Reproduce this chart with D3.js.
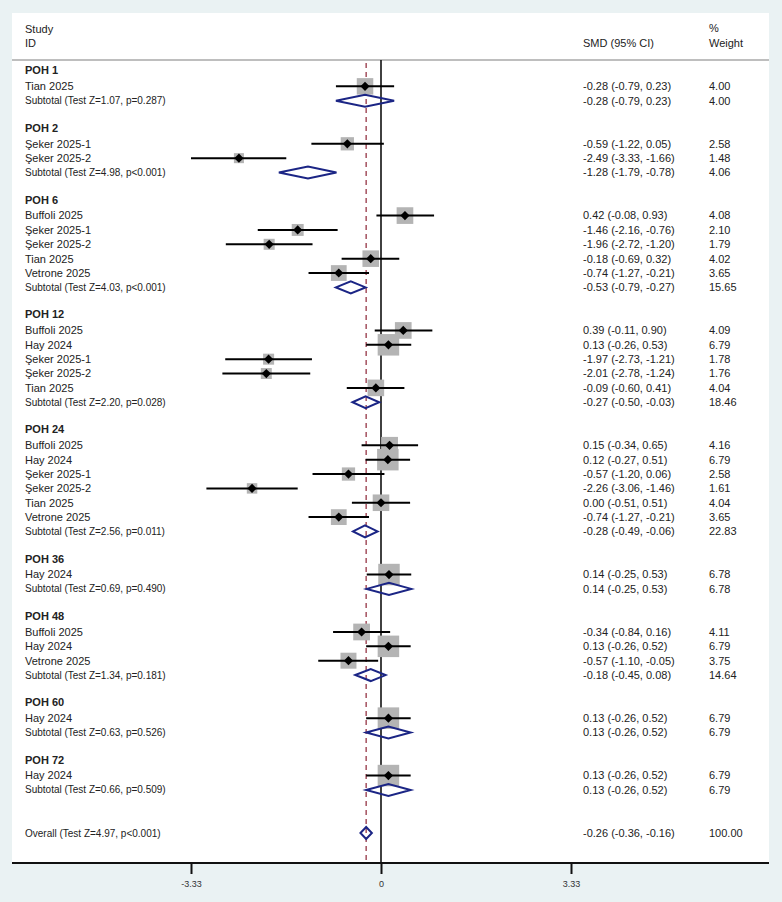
<!DOCTYPE html>
<html lang="en">
<head>
  <meta charset="utf-8">
  <style>
    body { margin: 0; background: #eaf2f3; }
    svg { display: block; font-family: "Liberation Sans", Arial, sans-serif; }
  </style>
</head>
<body>
  <script src="https://cdn.jsdelivr.net/npm/d3@7"></script>
  <script>

  // groups (follow-up times) and their subtotal results
  var groups = ["POH 1", "POH 2", "POH 6", "POH 12", "POH 24", "POH 36", "POH 48", "POH 60", "POH 72"];
  var subTest = ["Z=1.07, p=0.287", "Z=4.98, p<0.001", "Z=4.03, p<0.001", "Z=2.20, p=0.028",
                 "Z=2.56, p=0.011", "Z=0.69, p=0.490", "Z=1.34, p=0.181", "Z=0.63, p=0.526", "Z=0.66, p=0.509"];
  var subSmd = [-0.28, -1.28, -0.53, -0.27, -0.28, 0.14, -0.18, 0.13, 0.13];
  var subLo  = [-0.79, -1.79, -0.79, -0.50, -0.49, -0.25, -0.45, -0.26, -0.26];
  var subHi  = [0.23, -0.78, -0.27, -0.03, -0.06, 0.53, 0.08, 0.52, 0.52];
  var subWeight = [4.00, 4.06, 15.65, 18.46, 22.83, 6.78, 14.64, 6.79, 6.79];

  // individual studies
  var studyGroup = [0, 1, 1, 2, 2, 2, 2, 2, 3, 3, 3, 3, 3, 4, 4, 4, 4, 4, 4, 5, 6, 6, 6, 7, 8];
  var studyName = ["Tian 2025",
    "Şeker 2025-1", "Şeker 2025-2",
    "Buffoli 2025", "Şeker 2025-1", "Şeker 2025-2", "Tian 2025", "Vetrone 2025",
    "Buffoli 2025", "Hay 2024", "Şeker 2025-1", "Şeker 2025-2", "Tian 2025",
    "Buffoli 2025", "Hay 2024", "Şeker 2025-1", "Şeker 2025-2", "Tian 2025", "Vetrone 2025",
    "Hay 2024",
    "Buffoli 2025", "Hay 2024", "Vetrone 2025",
    "Hay 2024",
    "Hay 2024"];
  var smd = [-0.28, -0.59, -2.49, 0.42, -1.46, -1.96, -0.18, -0.74, 0.39, 0.13, -1.97, -2.01, -0.09,
             0.15, 0.12, -0.57, -2.26, 0.00, -0.74, 0.14, -0.34, 0.13, -0.57, 0.13, 0.13];
  var lo  = [-0.79, -1.22, -3.33, -0.08, -2.16, -2.72, -0.69, -1.27, -0.11, -0.26, -2.73, -2.78, -0.60,
             -0.34, -0.27, -1.20, -3.06, -0.51, -1.27, -0.25, -0.84, -0.26, -1.10, -0.26, -0.26];
  var hi  = [0.23, 0.05, -1.66, 0.93, -0.76, -1.20, 0.32, -0.21, 0.90, 0.53, -1.21, -1.24, 0.41,
             0.65, 0.51, 0.06, -1.46, 0.51, -0.21, 0.53, 0.16, 0.52, -0.05, 0.52, 0.52];
  var weight = [4.00, 2.58, 1.48, 4.08, 2.10, 1.79, 4.02, 3.65, 4.09, 6.79, 1.78, 1.76, 4.04,
                4.16, 6.79, 2.58, 1.61, 4.04, 3.65, 6.78, 4.11, 6.79, 3.75, 6.79, 6.79];

  var overallTest = "Z=4.97, p<0.001";
  var overallSmd = -0.26, overallLo = -0.36, overallHi = -0.16, overallWeight = 100.00;

  var tickValues = [-3.33, 0, 3.33];

  // ---- build rows ----
  var rows = [];
  var r = 0;
  groups.forEach(function(g, gi) {
    rows.push({type: "group", row: r++, label: g});
    studyGroup.forEach(function(sg, i) {
      if (sg === gi) rows.push({type: "study", row: r++, label: studyName[i], es: smd[i], lo: lo[i], hi: hi[i], w: weight[i]});
    });
    rows.push({type: "sub", row: r++, label: "Subtotal (Test " + subTest[gi] + ")", es: subSmd[gi], lo: subLo[gi], hi: subHi[gi], w: subWeight[gi]});
    r++;
  });
  r++;
  rows.push({type: "overall", row: r, label: "Overall (Test " + overallTest + ")", es: overallSmd, lo: overallLo, hi: overallHi, w: overallWeight});

  var W = 782, H = 902;
  var panel = {left: 12, right: 769, top: 13, bottom: 863};

  var x = d3.scaleLinear().domain([-3.33, 3.33]).range([191, 571]);
  var y = d3.scaleLinear().domain([0, r]).range([72, 833]);
  var boxSide = d3.scaleSqrt().domain([0, 6.79]).range([0, 21.5]);

  var loc = d3.formatLocale({decimal: ".", thousands: ",", grouping: [3], currency: ["", ""], minus: "-"});
  var f2 = loc.format(".2f");

  var svg = d3.select("body").append("svg")
    .attr("width", W)
    .attr("height", H);

  svg.append("rect").attr("width", W).attr("height", H).attr("fill", "#eaf2f3");
  svg.append("rect")
    .attr("x", panel.left).attr("y", panel.top)
    .attr("width", panel.right - panel.left).attr("height", panel.bottom - panel.top)
    .attr("fill", "#fff");

  // header
  var head = svg.append("g").attr("font-size", 11).attr("fill", "#222");
  head.append("text").attr("x", 25).attr("y", 29).attr("dy", ".35em").text("Study");
  head.append("text").attr("x", 25).attr("y", 43).attr("dy", ".35em").text("ID");
  head.append("text").attr("x", 583).attr("y", 43).attr("dy", ".35em").text("SMD (95% CI)");
  head.append("text").attr("x", 709).attr("y", 28).attr("dy", ".35em").text("%");
  head.append("text").attr("x", 709).attr("y", 43).attr("dy", ".35em").text("Weight");

  svg.append("line")
    .attr("x1", panel.left).attr("x2", panel.right)
    .attr("y1", 60).attr("y2", 60)
    .attr("stroke", "#a8a8a8").attr("stroke-width", 1.5);

  // reference lines
  svg.append("line")
    .attr("x1", x(0)).attr("x2", x(0))
    .attr("y1", 60).attr("y2", panel.bottom)
    .attr("stroke", "#111").attr("stroke-width", 1.6);

  svg.append("line")
    .attr("x1", x(overallSmd)).attr("x2", x(overallSmd))
    .attr("y1", 63).attr("y2", panel.bottom)
    .attr("stroke", "#a4505e").attr("stroke-width", 1.5)
    .attr("stroke-dasharray", "5,4");

  var studies = rows.filter(function(d) { return d.type === "study"; });
  var pooled = rows.filter(function(d) { return d.type === "sub" || d.type === "overall"; });

  // weight boxes
  svg.selectAll(".box")
    .data(studies)
    .enter().append("rect")
    .attr("class", "box")
    .attr("x", function(d) { return x(d.es) - boxSide(d.w) / 2; })
    .attr("y", function(d) { return y(d.row) - boxSide(d.w) / 2; })
    .attr("width", function(d) { return boxSide(d.w); })
    .attr("height", function(d) { return boxSide(d.w); })
    .attr("fill", "#b4b4b4");

  // confidence intervals
  svg.selectAll(".ci")
    .data(studies)
    .enter().append("line")
    .attr("class", "ci")
    .attr("x1", function(d) { return x(d.lo); })
    .attr("x2", function(d) { return x(d.hi); })
    .attr("y1", function(d) { return y(d.row); })
    .attr("y2", function(d) { return y(d.row); })
    .attr("stroke", "#000").attr("stroke-width", 2);

  // point estimates
  svg.selectAll(".pt")
    .data(studies)
    .enter().append("path")
    .attr("class", "pt")
    .attr("d", function(d) {
      var cx = x(d.es), cy = y(d.row), s = 4.6;
      return "M" + (cx - s) + "," + cy + "L" + cx + "," + (cy - s) + "L" + (cx + s) + "," + cy + "L" + cx + "," + (cy + s) + "Z";
    })
    .attr("fill", "#000");

  // pooled diamonds
  svg.selectAll(".diamond")
    .data(pooled)
    .enter().append("path")
    .attr("class", "diamond")
    .attr("d", function(d) {
      var cy = y(d.row), h = 6;
      return "M" + x(d.lo) + "," + cy + "L" + x(d.es) + "," + (cy - h) + "L" + x(d.hi) + "," + cy + "L" + x(d.es) + "," + (cy + h) + "Z";
    })
    .attr("fill", "none")
    .attr("stroke", "#1b2585").attr("stroke-width", 2);

  // left labels
  svg.selectAll(".lab")
    .data(rows)
    .enter().append("text")
    .attr("class", "lab")
    .attr("x", 25)
    .attr("y", function(d) { return d.type === "group" ? y(d.row) - 1.5 : y(d.row); })
    .attr("dy", ".35em")
    .attr("font-size", function(d) { return d.type === "sub" || d.type === "overall" ? 10 : 11; })
    .attr("font-weight", function(d) { return d.type === "group" ? "bold" : "normal"; })
    .attr("fill", "#222")
    .text(function(d) { return d.label; });

  var numbered = rows.filter(function(d) { return d.type !== "group"; });

  svg.selectAll(".est")
    .data(numbered)
    .enter().append("text")
    .attr("class", "est")
    .attr("x", 583)
    .attr("y", function(d) { return y(d.row); })
    .attr("dy", ".35em")
    .attr("font-size", 11)
    .attr("fill", "#222")
    .text(function(d) { return f2(d.es) + " (" + f2(d.lo) + ", " + f2(d.hi) + ")"; });

  svg.selectAll(".wt")
    .data(numbered)
    .enter().append("text")
    .attr("class", "wt")
    .attr("x", 709)
    .attr("y", function(d) { return y(d.row); })
    .attr("dy", ".35em")
    .attr("font-size", 11)
    .attr("fill", "#222")
    .text(function(d) { return f2(d.w); });

  // x axis
  var xAxis = d3.axisBottom(x)
    .tickValues(tickValues)
    .tickSize(11)
    .tickPadding(7)
    .tickFormat(function(d) { return d === 0 ? "0" : f2(d); });

  var ax = svg.append("g")
    .attr("transform", "translate(0," + panel.bottom + ")")
    .call(xAxis);
  ax.select(".domain").remove();
  ax.selectAll(".tick line").attr("stroke", "#111").attr("stroke-width", 2);
  ax.selectAll(".tick text").attr("fill", "#333").attr("font-size", 9)
    .attr("font-family", "\"Liberation Sans\", Arial, sans-serif");

  svg.append("line")
    .attr("x1", panel.left).attr("x2", panel.right)
    .attr("y1", panel.bottom).attr("y2", panel.bottom)
    .attr("stroke", "#111").attr("stroke-width", 2);

  </script>
</body>
</html>
